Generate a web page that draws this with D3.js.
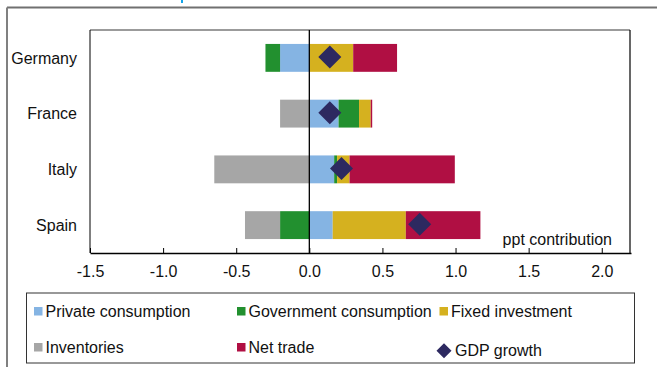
<!DOCTYPE html>
<html>
<head>
<meta charset="utf-8">
<script src="https://cdn.jsdelivr.net/npm/d3@7"></script>
<style>
  html, body { margin: 0; padding: 0; background: #fff; }
  svg { display: block; font-family: "Liberation Sans", Arial, sans-serif; }
</style>
</head>
<body>
<svg id="chart" width="657" height="367"></svg>
<script>
// Contributions to GDP growth, percentage points
const countries = ["Germany", "France", "Italy", "Spain"];
const seriesNames = ["Private consumption", "Government consumption", "Fixed investment", "Inventories", "Net trade"];
const privateConsumption    = [-0.20, 0.20, 0.17, 0.16];
const governmentConsumption = [-0.10, 0.14, 0.02, -0.20];
const fixedInvestment       = [0.30, 0.08, 0.085, 0.50];
const inventories           = [0.00, -0.20, -0.65, -0.24];
const netTrade              = [0.30, 0.01, 0.72, 0.51];
const gdpGrowth             = [0.14, 0.14, 0.22, 0.755];
const xTicks = [-1.5, -1.0, -0.5, 0.0, 0.5, 1.0, 1.5, 2.0];
const xDomain = [-1.5, 2.2];

const colors = ["#85b4e3", "#22902f", "#d5b11f", "#a6a6a6", "#b00f43"];
const diamondColor = "#2d2960";

const rows = countries.map((c, i) => ({
  country: c,
  "Private consumption": privateConsumption[i],
  "Government consumption": governmentConsumption[i],
  "Fixed investment": fixedInvestment[i],
  "Inventories": inventories[i],
  "Net trade": netTrade[i],
  gdp: gdpGrowth[i]
}));

const svg = d3.select("#chart");
const plot = { left: 90, right: 631, top: 30, bottom: 253 };

const x = d3.scaleLinear().domain(xDomain).range([plot.left, plot.right]);
const y = d3.scaleBand().domain(countries).range([plot.top, plot.bottom])
  .paddingInner(0.5).paddingOuter(0.25);

// outer frame
svg.append("line").attr("x1", 7).attr("x2", 657).attr("y1", 7.5).attr("y2", 7.5)
  .attr("stroke", "#707070").attr("stroke-width", 2);
svg.append("line").attr("x1", 7).attr("x2", 7).attr("y1", 7.5).attr("y2", 367)
  .attr("stroke", "#808080").attr("stroke-width", 2);
// title fragment
svg.append("rect").attr("x", 181).attr("y", 0).attr("width", 2).attr("height", 3)
  .attr("fill", "#12a4ea");

// plot box
svg.append("line").attr("x1", plot.left).attr("x2", plot.right - 1).attr("y1", plot.top).attr("y2", plot.top)
  .attr("stroke", "#7a7a7a").attr("stroke-width", 1.5);
svg.append("line").attr("x1", plot.right - 1).attr("x2", plot.right - 1).attr("y1", plot.top).attr("y2", plot.bottom)
  .attr("stroke", "#000").attr("stroke-width", 1.2);
svg.append("line").attr("x1", plot.left).attr("x2", plot.left).attr("y1", plot.top).attr("y2", plot.bottom)
  .attr("stroke", "#000").attr("stroke-width", 1);

// stacked bars
const stack = d3.stack().keys(seriesNames).offset(d3.stackOffsetDiverging);
const layers = stack(rows);
svg.append("g").selectAll("g").data(layers).join("g")
  .attr("fill", (d, i) => colors[i])
  .selectAll("rect").data(d => d).join("rect")
  .attr("x", d => x(Math.min(d[0], d[1])))
  .attr("width", d => Math.abs(x(d[1]) - x(d[0])))
  .attr("y", d => y(d.data.country))
  .attr("height", y.bandwidth());

// zero line
svg.append("line").attr("x1", x(0)).attr("x2", x(0)).attr("y1", plot.top).attr("y2", plot.bottom)
  .attr("stroke", "#000").attr("stroke-width", 1.3);

// x axis
const xAxis = d3.axisBottom(x).tickValues(xTicks).tickFormat(d3.format(".1f"))
  .tickSizeInner(-5).tickSizeOuter(0).tickPadding(12.5);
const gx = svg.append("g").attr("transform", `translate(0,${plot.bottom})`).call(xAxis);
gx.select(".domain").attr("stroke", "#000").attr("stroke-width", 1.3);
gx.selectAll(".tick line").attr("stroke", "#000");
gx.selectAll(".tick text").attr("font-size", 16).attr("fill", "#111")
  .attr("font-family", "'Liberation Sans', Arial, sans-serif")
  .text(d => d3.format(".1f")(d).replace("−", "-"));

// category labels
svg.append("g").selectAll("text").data(countries).join("text")
  .attr("x", 77).attr("y", d => y(d) + y.bandwidth() / 2)
  .attr("dy", "0.36em").attr("text-anchor", "end")
  .attr("font-size", 16).attr("fill", "#111").text(d => d);

// GDP growth markers
const diamond = (cx, cy, r) => `M${cx},${cy - r}L${cx + r},${cy}L${cx},${cy + r}L${cx - r},${cy}Z`;
svg.append("g").selectAll("path").data(rows).join("path")
  .attr("d", d => diamond(x(d.gdp), y(d.country) + y.bandwidth() / 2 - 0.8, 11.5))
  .attr("fill", diamondColor);

// unit label
svg.append("text").attr("x", 612).attr("y", 244.5).attr("text-anchor", "end")
  .attr("font-size", 16).attr("fill", "#111").text("ppt contribution");

// legend
svg.append("rect").attr("x", 26.5).attr("y", 293).attr("width", 608).attr("height", 70)
  .attr("fill", "none").attr("stroke", "#333").attr("stroke-width", 1);
const legendPos = [
  { sx: 34, tx: 45.5, by: 316.5 },
  { sx: 237, tx: 248.5, by: 316.5 },
  { sx: 439.5, tx: 451, by: 316.5 },
  { sx: 34, tx: 45.5, by: 352.5 },
  { sx: 237, tx: 248.5, by: 352.5 }
];
const lg = svg.append("g");
seriesNames.forEach((name, i) => {
  const p = legendPos[i];
  lg.append("rect").attr("x", p.sx).attr("y", p.by - 9.5).attr("width", 8.5).attr("height", 8.5)
    .attr("fill", colors[i]);
  lg.append("text").attr("x", p.tx).attr("y", p.by).attr("font-size", 16).attr("fill", "#111").text(name);
});
lg.append("path").attr("d", diamond(444, 350.8, 7.5)).attr("fill", diamondColor);
lg.append("text").attr("x", 455).attr("y", 356).attr("font-size", 16).attr("fill", "#111").text("GDP growth");
</script>
</body>
</html>
